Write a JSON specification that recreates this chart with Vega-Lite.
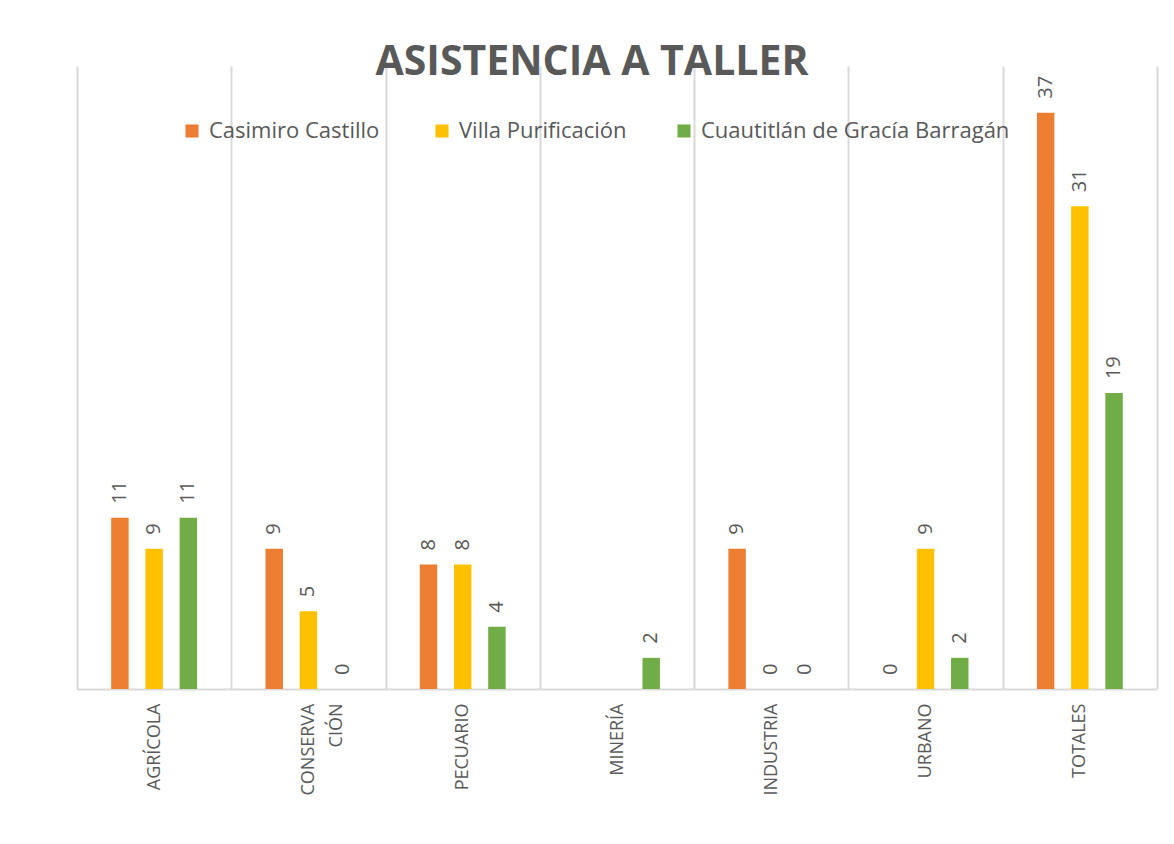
{
  "$schema": "https://vega.github.io/schema/vega-lite/v6.json",
  "autosize": "none",
  "width": 1080,
  "height": 623,
  "padding": {"left": 77, "top": 66, "right": 17, "bottom": 155},
  "background": "white",
  "title": {
    "text": "ASISTENCIA  A TALLER",
    "font": "Open Sans",
    "fontSize": 41,
    "fontWeight": "bold",
    "color": "#595959",
    "anchor": "middle",
    "dx": -25,
    "baseline": "alphabetic",
    "offset": -50
  },
  "data": {
    "values": [
      {"sector": "AGRÍCOLA", "municipio": "Casimiro  Castillo", "asistentes": 11},
      {"sector": "AGRÍCOLA", "municipio": "Villa Purificación", "asistentes": 9},
      {"sector": "AGRÍCOLA", "municipio": "Cuautitlán de Gracía Barragán", "asistentes": 11},
      {"sector": "CONSERVACIÓN", "municipio": "Casimiro  Castillo", "asistentes": 9},
      {"sector": "CONSERVACIÓN", "municipio": "Villa Purificación", "asistentes": 5},
      {"sector": "CONSERVACIÓN", "municipio": "Cuautitlán de Gracía Barragán", "asistentes": 0},
      {"sector": "PECUARIO", "municipio": "Casimiro  Castillo", "asistentes": 8},
      {"sector": "PECUARIO", "municipio": "Villa Purificación", "asistentes": 8},
      {"sector": "PECUARIO", "municipio": "Cuautitlán de Gracía Barragán", "asistentes": 4},
      {"sector": "MINERÍA", "municipio": "Casimiro  Castillo", "asistentes": null},
      {"sector": "MINERÍA", "municipio": "Villa Purificación", "asistentes": null},
      {"sector": "MINERÍA", "municipio": "Cuautitlán de Gracía Barragán", "asistentes": 2},
      {"sector": "INDUSTRIA", "municipio": "Casimiro  Castillo", "asistentes": 9},
      {"sector": "INDUSTRIA", "municipio": "Villa Purificación", "asistentes": 0},
      {"sector": "INDUSTRIA", "municipio": "Cuautitlán de Gracía Barragán", "asistentes": 0},
      {"sector": "URBANO", "municipio": "Casimiro  Castillo", "asistentes": 0},
      {"sector": "URBANO", "municipio": "Villa Purificación", "asistentes": 9},
      {"sector": "URBANO", "municipio": "Cuautitlán de Gracía Barragán", "asistentes": 2},
      {"sector": "TOTALES", "municipio": "Casimiro  Castillo", "asistentes": 37},
      {"sector": "TOTALES", "municipio": "Villa Purificación", "asistentes": 31},
      {"sector": "TOTALES", "municipio": "Cuautitlán de Gracía Barragán", "asistentes": 19}
    ]
  },
  "encoding": {
    "x": {
      "field": "sector",
      "type": "nominal",
      "sort": null,
      "scale": {"paddingInner": 0, "paddingOuter": 0},
      "axis": {
        "title": null,
        "labelAngle": -90,
        "labelFont": "Open Sans",
        "labelFontSize": 18,
        "labelColor": "#595959",
        "labelPadding": 14,
        "labelLineHeight": 28,
        "labelExpr": "datum.label == 'CONSERVACIÓN' ? ['CONSERVA', 'CIÓN'] : datum.label",
        "ticks": false,
        "domainColor": "#d9d9d9",
        "domainWidth": 2,
        "grid": true,
        "gridColor": "#d9d9d9",
        "gridWidth": 2,
        "tickBand": "extent"
      }
    },
    "xOffset": {
      "field": "municipio",
      "type": "nominal",
      "sort": ["Casimiro  Castillo", "Villa Purificación", "Cuautitlán de Gracía Barragán"],
      "scale": {"paddingInner": 0.49, "paddingOuter": 1.2}
    },
    "y": {
      "field": "asistentes",
      "type": "quantitative",
      "scale": {"domain": [0, 40], "nice": false},
      "axis": null
    }
  },
  "layer": [
    {
      "mark": {"type": "bar"},
      "encoding": {
        "color": {
          "field": "municipio",
          "type": "nominal",
          "scale": {
            "domain": ["Casimiro  Castillo", "Villa Purificación", "Cuautitlán de Gracía Barragán"],
            "range": ["#ED7D31", "#FFC000", "#70AD47"]
          },
          "legend": {
            "title": null,
            "orient": "none",
            "direction": "horizontal",
            "legendX": 104,
            "legendY": 54,
            "padding": 0,
            "symbolType": "square",
            "symbolSize": 170,
            "symbolStrokeWidth": 0,
            "symbolOpacity": 1,
            "labelFont": "Open Sans",
            "labelFontSize": 22,
            "labelColor": "#595959",
            "labelOffset": 6,
            "columnPadding": 46,
            "labelLimit": 500
          }
        }
      }
    },
    {
      "mark": {
        "type": "text",
        "angle": 270,
        "align": "left",
        "baseline": "middle",
        "dx": 14,
        "font": "Open Sans",
        "fontSize": 20,
        "color": "#595959"
      },
      "encoding": {
        "text": {"field": "asistentes", "type": "quantitative"}
      }
    }
  ],
  "config": {
    "view": {"stroke": null}
  }
}
